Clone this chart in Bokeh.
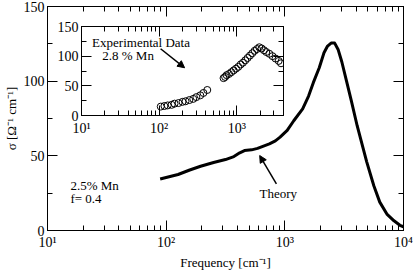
from bokeh.plotting import figure
from bokeh.models import (FixedTicker, SingleIntervalTicker, LogAxis, LinearAxis,
                          Label, Arrow, NormalHead, GridBox)
from bokeh.embed import file_html
from bokeh.resources import INLINE

FONT = "Liberation Serif"

# ---- data ----
theory_freq = [89, 126, 158, 195, 251, 316, 372, 417, 457, 525, 589, 661, 741, 832,
               912, 1047, 1189, 1413, 1585, 1738, 1950, 2138, 2291, 2455, 2630, 2818,
               3020, 3311, 3631, 4074, 4571, 4898, 5623, 6310, 7244, 8318, 9333, 10000]
theory_sigma = [34.5, 37.5, 40.5, 43, 45.5, 47.5, 49.5, 52, 53.5, 54, 55, 56.5, 58, 60,
                62.5, 67, 73.5, 81.5, 90, 99, 109, 119, 123.5, 125.5, 125.5, 121,
                113, 100, 87, 70, 55, 46, 30, 19, 11, 6.5, 3.5, 2.5]

exp_freq = [105, 117, 129, 145, 158, 178, 200, 219, 245, 275, 302, 339, 372, 417,
            676, 708, 741, 794, 851, 912, 977, 1047, 1122, 1202, 1288, 1380, 1479,
            1585, 1698, 1820, 1950, 2089, 2239, 2399, 2630, 2884, 3162, 3467, 3715]
exp_sigma = [15, 16, 17, 18, 20, 21, 23, 24, 26, 28, 31, 34, 38, 43,
             63, 65, 68, 70, 73, 76, 79, 82, 86, 89, 93, 97, 101,
             105, 109, 112, 115, 113, 110, 107, 104, 100, 96, 92, 88]

main_decades = [10, 100, 1000, 10000]
main_decade_labels = ["10\u00b9", "10\u00b2", "10\u00b3", "10\u2074"]
inset_decades = [10, 100, 1000]
inset_decade_labels = ["10\u00b9", "10\u00b2", "10\u00b3"]
main_minor = [m * d for d in [10, 100, 1000] for m in range(2, 10)]
inset_minor = [m * d for d in [10, 100] for m in range(2, 10)] + [2000, 3000]


def style_axis(ax, show_labels, size="14px", standoff=4):
    ax.axis_line_color = "black"
    ax.axis_line_width = 1
    ax.major_tick_in = 10
    ax.major_tick_out = 0
    ax.minor_tick_in = 5
    ax.minor_tick_out = 0
    ax.major_tick_line_color = "black"
    ax.minor_tick_line_color = "black"
    ax.major_label_text_font = FONT
    ax.major_label_text_color = "black"
    ax.major_label_standoff = standoff
    if show_labels:
        ax.major_label_text_font_size = size
    else:
        ax.major_label_text_font_size = "1px"
        ax.major_label_text_alpha = 0
        ax.major_label_standoff = 0


def build(fig, decades, labels, minors, xstand):
    xt = FixedTicker(ticks=decades, minor_ticks=minors)
    yt = SingleIntervalTicker(interval=50, num_minor_ticks=2)
    bottom = fig.below[0]
    left = fig.left[0]
    bottom.ticker = xt
    left.ticker = yt
    bottom.major_label_overrides = dict(zip(decades, labels))
    style_axis(bottom, True, standoff=xstand)
    style_axis(left, True, standoff=3)
    top = LogAxis(ticker=xt)
    style_axis(top, False)
    fig.add_layout(top, "above")
    right = LinearAxis(ticker=yt)
    style_axis(right, False)
    fig.add_layout(right, "right")
    fig.xgrid.visible = False
    fig.ygrid.visible = False
    fig.outline_line_color = "black"
    return bottom, left


# ---- main figure ----
p = figure(width=415, height=273, x_axis_type="log", x_range=(10, 10000), y_range=(0, 150),
           output_backend="svg", toolbar_location=None,
           min_border_left=47, min_border_right=12, min_border_top=6, min_border_bottom=43)
xax, yax = build(p, main_decades, main_decade_labels, main_minor, 4)
xax.axis_label = "Frequency [cm\u207b\u00b9]"
yax.axis_label = "\u03c3 [\u03a9\u207b\u00b9 cm\u207b\u00b9]"
for ax in (xax, yax):
    ax.axis_label_text_font = FONT
    ax.axis_label_text_font_size = "13px"
    ax.axis_label_text_font_style = "normal"
    ax.axis_label_text_color = "black"
xax.axis_label_standoff = 2
yax.axis_label_standoff = 2

p.line(theory_freq, theory_sigma, line_color="black", line_width=3, line_join="round")

for txt, x, y in [("2.5% Mn", 15.6, 30), ("f= 0.4", 15.6, 21.4), ("Theory", 611, 24.6)]:
    p.add_layout(Label(x=x, y=y, text=txt, text_font=FONT, text_font_size="13px",
                       text_color="black", text_baseline="middle", text_align="left"))
p.add_layout(Arrow(end=NormalHead(size=7, fill_color="black", line_color="black"),
                   x_start=849, y_start=31.3, x_end=614, y_end=50.2,
                   line_color="black", line_width=1.5))

# ---- inset ----
ins = figure(width=237, height=121, x_axis_type="log", x_range=(10, 4000), y_range=(0, 150),
             output_backend="svg", toolbar_location=None,
             min_border_left=30, min_border_right=5, min_border_top=8, min_border_bottom=24)
build(ins, inset_decades, inset_decade_labels, inset_minor, 5)
ins.background_fill_alpha = 0
ins.border_fill_alpha = 0

ins.scatter(exp_freq, exp_sigma, marker="circle", size=7, fill_alpha=0,
            line_color="black", line_width=1)
ins.add_layout(Label(x=13.7, y=122.6, text="Experimental Data", text_font=FONT,
                     text_font_size="13px", text_color="black", text_baseline="middle"))
ins.add_layout(Label(x=18.5, y=101, text="2.8 % Mn", text_font=FONT,
                     text_font_size="13px", text_color="black", text_baseline="middle"))
ins.add_layout(Arrow(end=NormalHead(size=7, fill_color="black", line_color="black"),
                     x_start=104.5, y_start=112.5, x_end=213, y_end=80.4,
                     line_color="black", line_width=1.5))

grid = GridBox(children=[(p, 0, 0, 3, 3), (ins, 1, 1, 1, 1)],
               rows=["18px", "121px", "134px"], cols=["51px", "237px", "127px"], spacing=0)

open("out.html", "w").write(file_html(grid, INLINE))
